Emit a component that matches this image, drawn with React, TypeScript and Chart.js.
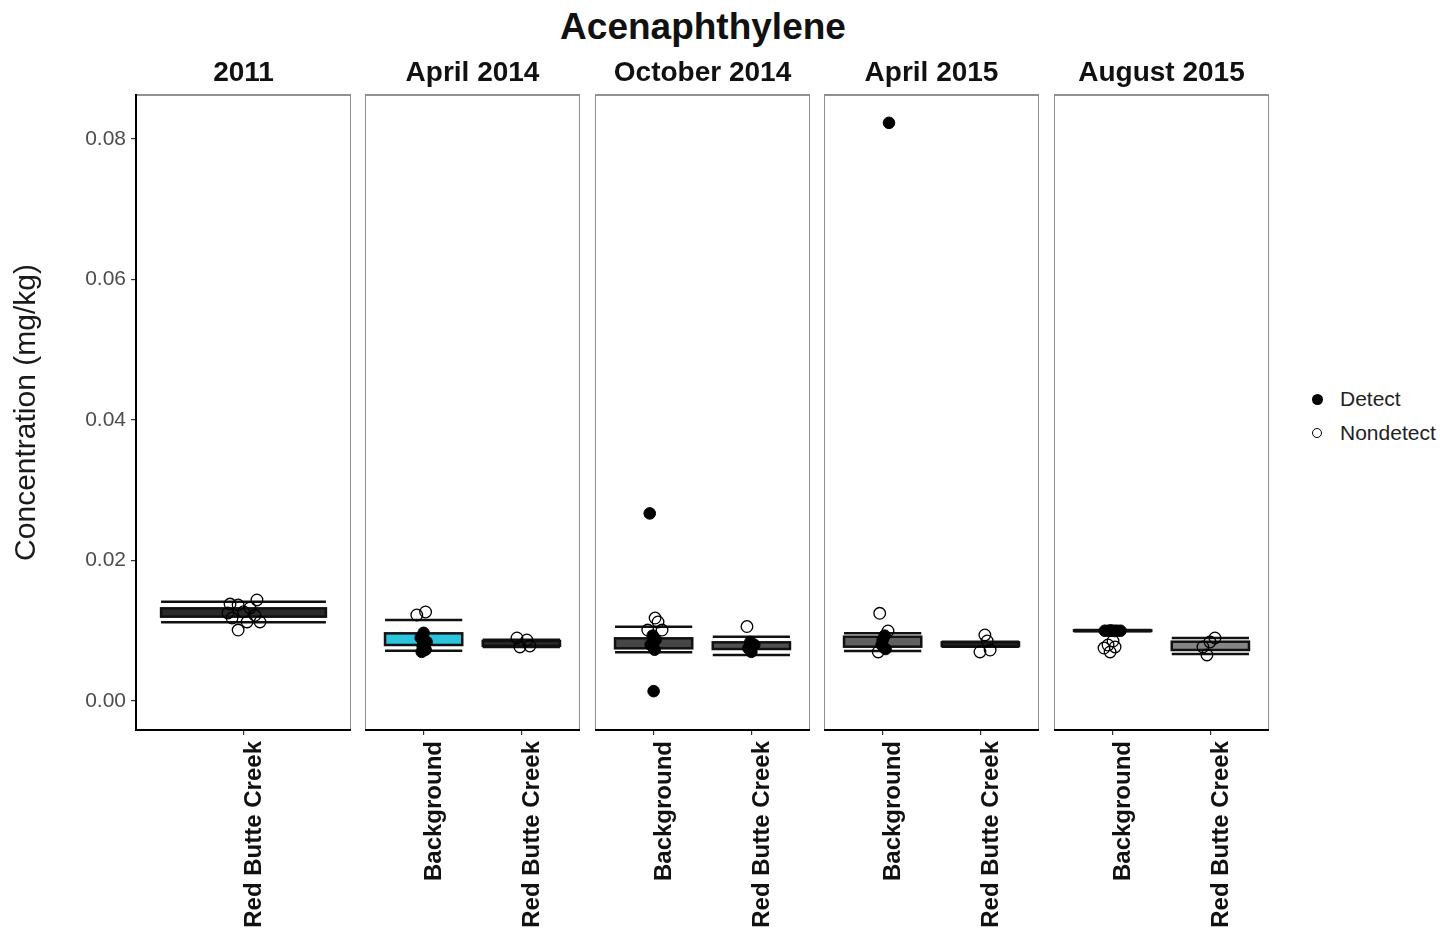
import React, { useEffect, useRef } from 'react';
import { Chart, registerables } from 'chart.js';
Chart.register(...registerables);

const FONT = "'Liberation Sans', Arial, Helvetica, sans-serif";
Chart.defaults.font.family = FONT;

// ---------- data ----------
const chartTitle = 'Acenaphthylene';
const yAxisTitle = 'Concentration (mg/kg)';
const yTicks = [0, 0.02, 0.04, 0.06, 0.08];
const panelTitles = ['2011', 'April 2014', 'October 2014', 'April 2015', 'August 2015'];
const panelCategories = [
  ['Red Butte Creek'],
  ['Background', 'Red Butte Creek'],
  ['Background', 'Red Butte Creek'],
  ['Background', 'Red Butte Creek'],
  ['Background', 'Red Butte Creek'],
];
const whiskerHigh = [[0.01413], [0.01153, 0.0087], [0.01058, 0.00915], [0.00963, 0.00844], [0.01012, 0.00897]];
const boxHigh = [[0.01319], [0.00963, 0.00855], [0.00892, 0.00835], [0.00915, 0.00835], [0.01006, 0.00844]];
const boxLow = [[0.012], [0.00797, 0.00785], [0.0075, 0.0074], [0.00773, 0.00782], [0.00997, 0.00726]];
const whiskerLow = [[0.0112], [0.00716, 0.0077], [0.00693, 0.00655], [0.00712, 0.00773], [0.00992, 0.00669]];

// [group (1-based), value, jitter]
const detectPoints: number[][][] = [
  [],
  [[1, 0.0097, 0], [1, 0.009, -0.03], [1, 0.0084, 0.03], [1, 0.0078, -0.01], [1, 0.0073, 0.02], [1, 0.007, -0.02]],
  [[1, 0.0267, -0.04], [1, 0.0014, 0], [1, 0.0093, -0.01], [1, 0.0087, 0.02], [1, 0.008, -0.03], [1, 0.0073, 0.01],
   [2, 0.0084, -0.01], [2, 0.008, 0.03], [2, 0.0075, -0.03], [2, 0.007, 0]],
  [[1, 0.0823, 0.065], [1, 0.0093, 0.02], [1, 0.0087, 0], [1, 0.008, -0.01], [1, 0.0074, 0.03]],
  [[1, 0.01, -0.08], [1, 0.01, -0.04], [1, 0.01, 0], [1, 0.01, 0.04], [1, 0.01, 0.08], [1, 0.01004, -0.02], [1, 0.00996, 0.02]],
];
const nondetectPoints: number[][][] = [
  [[1, 0.0138, -0.075], [1, 0.01367, -0.03], [1, 0.01438, 0.075], [1, 0.01324, 0.036], [1, 0.01253, -0.087],
   [1, 0.01125, 0.02], [1, 0.01125, 0.092], [1, 0.0101, -0.03], [1, 0.01181, -0.064], [1, 0.0127, 0], [1, 0.0122, 0.064]],
  [[1, 0.01224, -0.07], [1, 0.01267, 0.02], [2, 0.00897, -0.045], [2, 0.00868, 0.056], [2, 0.00769, -0.015], [2, 0.00783, 0.087]],
  [[1, 0.01181, 0.015], [1, 0.0101, -0.06], [1, 0.0101, 0.086], [1, 0.01125, 0.045], [2, 0.0106, -0.045]],
  [[1, 0.01248, -0.03], [1, 0.00996, 0.055], [1, 0.00698, -0.045],
   [2, 0.0094, 0.046], [2, 0.00698, -0.004], [2, 0.00726, 0.1], [2, 0.00854, 0.07]],
  [[1, 0.00797, -0.047], [1, 0.00854, 0.004], [1, 0.00698, -0.026], [1, 0.00754, -0.088], [1, 0.00769, 0.025],
   [2, 0.00897, 0.047], [2, 0.00769, -0.076], [2, 0.00655, -0.035], [2, 0.0084, -0.004]],
];

// ---------- styles / layout ----------
const bandFill = [['#2a2a2a'], ['#2cc3dd', '#2a2a2a'], ['#454545', '#505050'], ['#606060', '#2a2a2a'], ['#2a2a2a', '#858585']];
const boxWidthUnits = [0.92, 0.79, 0.79, 0.79, 0.79];
const PANEL_LEFT = [136, 365, 595, 824, 1054];
const PANEL_W = 215;
const CANVAS_TOP = 40;
const CANVAS_H = 891;
const AREA_BOTTOM = 730;
const Y_MIN = -0.00413;
const Y_MAX = 0.08626;

function Panel({ idx }: { idx: number }) {
  const ref = useRef<HTMLCanvasElement>(null);
  const first = idx === 0;
  const left = first ? 0 : PANEL_LEFT[idx];
  const width = PANEL_LEFT[idx] + PANEL_W - left;

  useEffect(() => {
    const cats = panelCategories[idx];
    const boxPlugin = {
      id: 'boxes',
      beforeDraw(chart: any) {
        const { ctx, chartArea: a } = chart;
        ctx.save();
        ctx.strokeStyle = '#858585';
        ctx.lineWidth = 1.8;
        ctx.strokeRect(a.left, a.top, a.right - a.left, a.bottom - a.top);
        ctx.restore();
      },
      beforeDatasetsDraw(chart: any) {
        const { ctx } = chart;
        const xs = chart.scales.x;
        const ys = chart.scales.y;
        const hw = boxWidthUnits[idx] / 2;
        ctx.save();
        cats.forEach((_c: string, i: number) => {
          const g = i + 1;
          const xl = xs.getPixelForValue(g - hw);
          const xr = xs.getPixelForValue(g + hw);
          const yt = ys.getPixelForValue(boxHigh[idx][i]);
          const yb = ys.getPixelForValue(boxLow[idx][i]);
          ctx.fillStyle = bandFill[idx][i];
          ctx.fillRect(xl, yt, xr - xl, yb - yt);
          ctx.strokeStyle = '#111';
          ctx.lineWidth = 2.5;
          ctx.strokeRect(xl, yt, xr - xl, yb - yt);
          ctx.lineWidth = 2.5;
          [whiskerHigh[idx][i], whiskerLow[idx][i]].forEach((v) => {
            const yy = ys.getPixelForValue(v);
            ctx.beginPath();
            ctx.moveTo(xl, yy);
            ctx.lineTo(xr, yy);
            ctx.stroke();
          });
        });
        ctx.restore();
      },
    };

    const chart = new Chart(ref.current as HTMLCanvasElement, {
      type: 'scatter',
      data: {
        datasets: [
          {
            label: 'Nondetect',
            data: nondetectPoints[idx].map(([g, v, j]) => ({ x: g + j, y: v })),
            pointRadius: 5.8,
            pointBackgroundColor: 'rgba(0,0,0,0)',
            pointBorderColor: '#000',
            pointBorderWidth: 1.3,
          },
          {
            label: 'Detect',
            data: detectPoints[idx].map(([g, v, j]) => ({ x: g + j, y: v })),
            pointRadius: 5.8,
            pointBackgroundColor: '#000',
            pointBorderColor: '#000',
            pointBorderWidth: 1,
          },
        ],
      },
      options: {
        animation: false,
        responsive: false,
        maintainAspectRatio: false,
        events: [],
        layout: { padding: 0, autoPadding: false },
        plugins: {
          legend: { display: false },
          tooltip: { enabled: false },
          title: {
            display: true,
            text: panelTitles[idx],
            fullSize: false,
            color: '#111',
            font: { size: 28, weight: 'bold', family: FONT },
            padding: { top: 16, bottom: 5.4 },
          },
        },
        scales: {
          x: {
            type: 'linear',
            min: 0.4,
            max: cats.length + 0.6,
            afterBuildTicks: (s: any) => {
              s.ticks = cats.map((_c: string, i: number) => ({ value: i + 1 }));
            },
            afterFit: (s: any) => {
              s.height = CANVAS_TOP + CANVAS_H - AREA_BOTTOM;
            },
            grid: { display: true, drawOnChartArea: false, drawTicks: true, tickLength: 5, color: '#333', lineWidth: 1.2 },
            border: { display: true, color: '#000', width: 2 },
            ticks: {
              autoSkip: false,
              maxRotation: 90,
              minRotation: 90,
              padding: 6,
              labelOffset: 11,
              color: '#111',
              font: { size: 24, weight: 'bold', family: FONT },
              callback: (v: any) => cats[Math.round(Number(v)) - 1] ?? '',
            },
          },
          y: {
            type: 'linear',
            display: first,
            min: Y_MIN,
            max: Y_MAX,
            afterBuildTicks: (s: any) => {
              s.ticks = yTicks.map((v) => ({ value: v }));
            },
            afterFit: (s: any) => {
              if (first) s.width = PANEL_LEFT[0];
            },
            grid: { display: true, drawOnChartArea: false, drawTicks: true, tickLength: 5, color: '#333', lineWidth: 1.2 },
            border: { display: true, color: '#000', width: 2 },
            title: {
              display: true,
              text: yAxisTitle,
              color: '#1a1a1a',
              font: { size: 30, family: FONT },
              padding: { top: 9, bottom: 0 },
            },
            ticks: {
              color: '#4d4d4d',
              padding: 5,
              font: { size: 21, family: FONT },
              callback: (v: any) => Number(v).toFixed(2),
            },
          },
        },
      } as any,
      plugins: [boxPlugin],
    });
    return () => chart.destroy();
  }, [idx]);

  return (
    <canvas
      ref={ref}
      width={width}
      height={CANVAS_H}
      style={{ position: 'absolute', left, top: CANVAS_TOP, width, height: CANVAS_H }}
    />
  );
}

export default function App() {
  const legendText: React.CSSProperties = {
    position: 'absolute',
    left: 1340,
    fontFamily: FONT,
    fontSize: 21,
    color: '#222',
    lineHeight: '22px',
    whiteSpace: 'nowrap',
  };
  return (
    <div style={{ position: 'absolute', left: 0, top: 0, width: 1445, height: 931, background: '#fff', overflow: 'hidden' }}>
      <div
        style={{
          position: 'absolute',
          left: 0,
          top: 7,
          width: 1406,
          textAlign: 'center',
          fontFamily: FONT,
          fontWeight: 'bold',
          fontSize: 37,
          lineHeight: '40px',
          color: '#111',
        }}
      >
        {chartTitle}
      </div>
      {panelTitles.map((_t, i) => (
        <Panel key={i} idx={i} />
      ))}
      <div style={{ position: 'absolute', left: 1312, top: 394, width: 11, height: 11, borderRadius: '50%', background: '#000' }} />
      <div style={{ ...legendText, top: 388 }}>Detect</div>
      <div style={{ position: 'absolute', left: 1312, top: 428, width: 8, height: 8, borderRadius: '50%', border: '1.5px solid #000' }} />
      <div style={{ ...legendText, top: 422 }}>Nondetect</div>
    </div>
  );
}
